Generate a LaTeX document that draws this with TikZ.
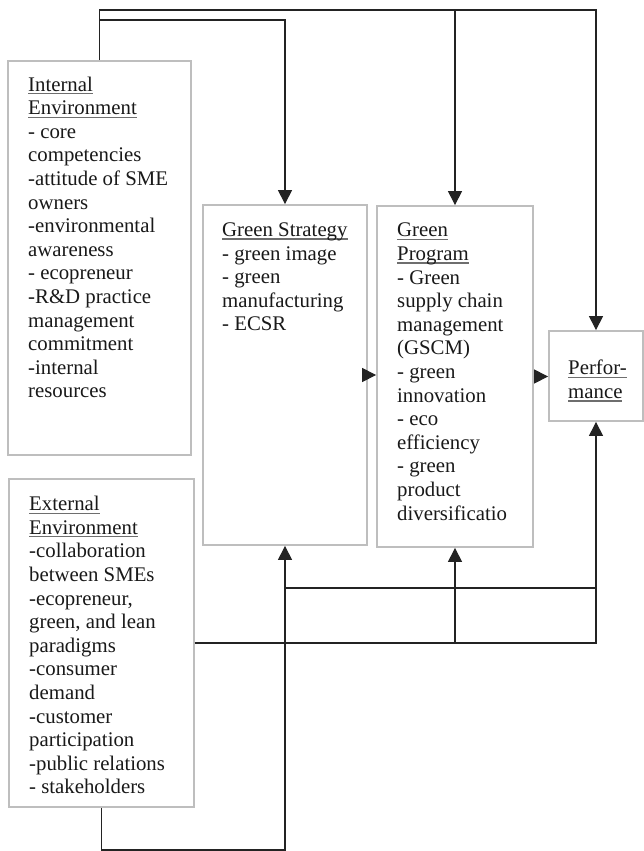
\documentclass[tikz,border=0pt]{standalone}
\usepackage{fontspec}
\setmainfont{Liberation Serif}
\usetikzlibrary{arrows.meta}
\definecolor{boxgray}{RGB}{190,190,190}
\definecolor{linegray}{RGB}{35,35,35}
\definecolor{ulgray}{RGB}{110,110,110}
\definecolor{txtblack}{RGB}{25,25,25}
\newsavebox\ulbox
\newcommand\myul[1]{\sbox\ulbox{#1}\rlap{\color{ulgray}\rule[-3.2pt]{\wd\ulbox}{1.3pt}}\usebox\ulbox}
\begin{document}
\begin{tikzpicture}[x=1pt,y=-1pt,
  box/.style={draw=boxgray, line width=1.8pt, rectangle, inner sep=0pt},
  txt/.style={anchor=north west, align=left, inner sep=0pt, text=txtblack,
    font=\fontsize{20.8}{23.6}\selectfont},
  conn/.style={draw=linegray, line width=1.1pt},
  arr/.style={conn, -{Triangle[width=14pt,length=14pt]}}]
\useasboundingbox (0,0) rectangle (644,851);
\fill[white] (0,0) rectangle (644,851);

% boxes
\node[box, minimum width=183pt, minimum height=394pt] (int) at (99.5,258) {};
\node[box, minimum width=185pt, minimum height=328pt] (ext) at (101.5,643) {};
\node[box, minimum width=164pt, minimum height=340pt] (gs) at (285,375) {};
\node[box, minimum width=156pt, minimum height=341pt] (gp) at (455,376.5) {};
\node[box, minimum width=94pt, minimum height=90pt] (perf) at (596,376) {};

% texts
\node[txt] (inttxt) at (28,76.5) {\myul{Internal}\\ \myul{Environment}\\ - core\\ competencies\\ -attitude of SME\\ owners\\ -environmental\\ awareness\\ - ecopreneur\\ -R\&D practice\\ management\\ commitment\\ -internal\\ resources};
\node[txt] (exttxt) at (29,496) {\myul{External}\\ \myul{Environment}\\ -collaboration\\ between SMEs\\ -ecopreneur,\\ green, and lean\\ paradigms\\ -consumer\\ demand\\ -customer\\ participation\\ -public relations\\ - stakeholders};
\node[txt] (gstxt) at (222,222.5) {\myul{Green Strategy}\\ - green image\\ - green\\ manufacturing\\ - ECSR};
\node[txt] (gptxt) at (397,223) {\myul{Green}\\ \myul{Program}\\ - Green\\ supply chain\\ management\\ (GSCM)\\ - green\\ innovation\\ - eco\\ efficiency\\ - green\\ product\\ diversificatio};
\node[txt] (perftxt) at (568,360) {\myul{Perfor-}\\ \myul{mance}};

% connectors
\coordinate (top1) at (0,10);
\coordinate (top2) at (0,20);
\coordinate (bot) at (0,850);
\coordinate (mid1) at (0,588);
\draw[arr] (int.north) -- (int.north |- top1) -| (perf.north);
\draw[arr] (gp.north |- top1) -- (gp.north);
\draw[arr] (int.north |- top2) -| (gs.north);
\draw[arr] (ext.south) -- (ext.south |- bot) -| (gs.south);
\draw[arr] (ext.east) -| (gp.south);
\draw[arr] (ext.east) -| (perf.south);
\draw[conn] (gs.south |- mid1) -- (perf.south |- mid1);
\draw[arr] (gs.east) -- (gs.east -| gp.west);
\draw[arr] (gp.east) -- (gp.east -| perf.west);
\end{tikzpicture}
\end{document}
